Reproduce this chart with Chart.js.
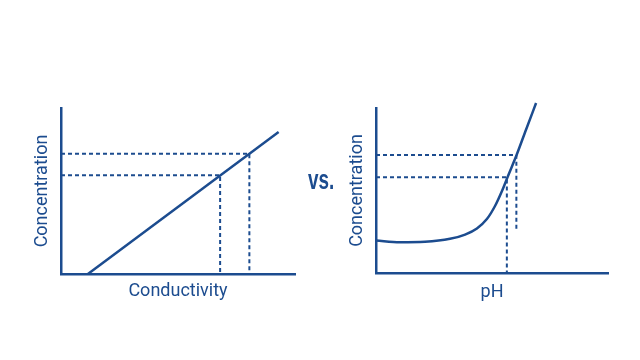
<!DOCTYPE html>
<html>
<head>
<meta charset="utf-8">
<script src="https://cdn.jsdelivr.net/npm/chart.js@4/dist/chart.umd.min.js"></script>
<style>
  html, body { margin: 0; padding: 0; background: #ffffff; }
  #wrap { position: relative; width: 640px; height: 360px; overflow: hidden; background: #fff; }
  .panel { position: absolute; top: 0; width: 320px; height: 360px; }
  #vs { position: absolute; left: 308px; top: 165px; font-family: "Liberation Sans", Arial, sans-serif; font-weight: bold; font-size: 27px; color: #1c4c8f; line-height: 30px; transform: scaleX(0.7); transform-origin: 0 0; }
</style>
</head>
<body>
<div id="wrap">
  <div class="panel" style="left:0"><canvas id="c1"></canvas></div>
  <div class="panel" style="left:320px"><canvas id="c2"></canvas></div>
  <div id="vs">vs.</div>
</div>
<script>
// ---- data (arbitrary units, axes run 0..10) ----
const condTitleX = "Conductivity";
const condTitleY = "Concentration";
const condX = [1.15, 9.3];
const condY = [0, 8.55];
const condReadX = [6.8, 8.05];
const condReadY = [5.95, 7.25];
const condReadFloor = [0, 0];

const phTitleX = "pH";
const phTitleY = "Concentration";
const phX = [0, 1.03, 2.11, 3.19, 3.84, 4.35, 4.78, 5.13, 5.43, 5.69, 6.06, 6.47, 6.9];
const phY = [1.97, 1.86, 1.89, 2.07, 2.33, 2.70, 3.27, 4.06, 4.97, 5.88, 7.15, 8.70, 10.3];
const phReadX = [5.64, 6.05];
const phReadY = [5.8, 7.15];
const phReadFloor = [0, 2.6];

const BLUE = "#1c4c8f";
const FONT = "Roboto, 'Liberation Sans', sans-serif";

function pts(xs, ys) { return xs.map((x, i) => ({ x: x, y: ys[i] })); }

function readingSets(rx, ry, floor) {
  return rx.map((x, i) => ({
    data: [{ x: 0, y: ry[i] }, { x: x, y: ry[i] }, { x: x, y: floor[i] }],
    showLine: true, borderColor: BLUE, borderWidth: 2, borderDash: [4, 3],
    pointRadius: 0, fill: false, tension: 0
  }));
}

function makeChart(id, mainData, readings, titleX, titleY, pad, yTitlePad, xTitlePad, smooth) {
  return new Chart(document.getElementById(id), {
    type: 'scatter',
    data: {
      datasets: [
        { data: mainData, showLine: true, borderColor: BLUE, borderWidth: 2.5, pointRadius: 0,
          fill: false, clip: false, cubicInterpolationMode: smooth ? 'monotone' : 'default', tension: 0 },
        ...readings
      ]
    },
    options: {
      responsive: true, maintainAspectRatio: false, animation: false,
      layout: { padding: pad },
      plugins: { legend: { display: false }, tooltip: { enabled: false } },
      scales: {
        x: {
          type: 'linear', min: 0, max: 10,
          grid: { display: false, drawTicks: false },
          border: { display: true, color: BLUE, width: 2.5 },
          ticks: { display: false },
          title: { display: true, text: titleX, color: BLUE, font: { family: FONT, size: 18, lineHeight: 1 }, padding: xTitlePad }
        },
        y: {
          type: 'linear', min: 0, max: 10,
          grid: { display: false, drawTicks: false },
          border: { display: true, color: BLUE, width: 2.5 },
          ticks: { display: false },
          title: { display: true, text: titleY, color: BLUE, font: { family: FONT, size: 18, lineHeight: 1 }, padding: yTitlePad }
        }
      }
    }
  });
}

makeChart('c1', pts(condX, condY), readingSets(condReadX, condReadY, condReadFloor),
  condTitleX, condTitleY,
  { left: 26, right: 25, top: 108, bottom: 60 },
  { top: 7.5, bottom: 9.5 }, { top: 8, bottom: 0 }, false);

makeChart('c2', pts(phX, phY), readingSets(phReadX, phReadY, phReadFloor),
  phTitleX, phTitleY,
  { left: 21, right: 32, top: 108, bottom: 59 },
  { top: 7.5, bottom: 9.5 }, { top: 10, bottom: 0 }, true);
</script>
</body>
</html>
